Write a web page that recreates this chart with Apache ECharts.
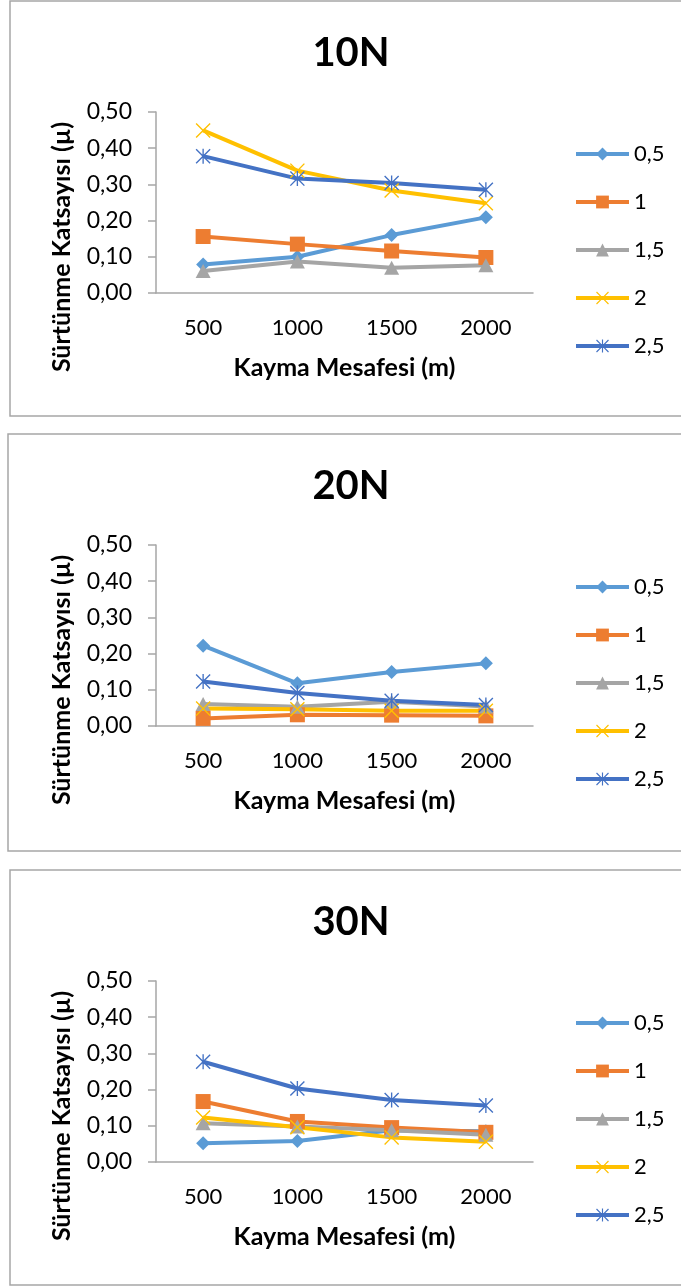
<!DOCTYPE html>
<html>
<head>
<meta charset="utf-8">
<script src="https://cdn.jsdelivr.net/npm/echarts@6/dist/echarts.min.js"></script>
<style>
  html, body { margin: 0; padding: 0; background: #fff; overflow: hidden; }
  #chart { width: 681px; height: 1286px; }
</style>
</head>
<body>
<div id="chart"></div>
<script>
// Sliding distance categories (m)
const categories = ['500', '1000', '1500', '2000'];
// Series names (sliding speed)
const seriesNames = ['0,5', '1', '1,5', '2', '2,5'];
// Panel titles (applied load)
const panelTitles = ['10N', '20N', '30N'];

// Friction coefficient, 10N
const mu10N_05 = [0.079, 0.100, 0.160, 0.209];
const mu10N_1  = [0.156, 0.135, 0.116, 0.098];
const mu10N_15 = [0.061, 0.087, 0.070, 0.077];
const mu10N_2  = [0.449, 0.338, 0.283, 0.248];
const mu10N_25 = [0.378, 0.316, 0.304, 0.285];

// Friction coefficient, 20N
const mu20N_05 = [0.222, 0.118, 0.149, 0.173];
const mu20N_1  = [0.021, 0.031, 0.030, 0.028];
const mu20N_15 = [0.061, 0.053, 0.067, 0.054];
const mu20N_2  = [0.048, 0.046, 0.042, 0.042];
const mu20N_25 = [0.123, 0.091, 0.070, 0.058];

// Friction coefficient, 30N
const mu30N_05 = [0.052, 0.058, 0.088, 0.085];
const mu30N_1  = [0.167, 0.112, 0.095, 0.082];
const mu30N_15 = [0.107, 0.098, 0.088, 0.075];
const mu30N_2  = [0.123, 0.096, 0.068, 0.056];
const mu30N_25 = [0.277, 0.203, 0.171, 0.156];

const panelData = [
  [mu10N_05, mu10N_1, mu10N_15, mu10N_2, mu10N_25],
  [mu20N_05, mu20N_1, mu20N_15, mu20N_2, mu20N_25],
  [mu30N_05, mu30N_1, mu30N_15, mu30N_2, mu30N_25]
];

const colors = ['#5B9BD5', '#ED7D31', '#A5A5A5', '#FFC000', '#4472C4'];
const crossPath = 'path://M1.3,0 L10,8.7 L18.7,0 L20,1.3 L11.3,10 L20,18.7 L18.7,20 L10,11.3 L1.3,20 L0,18.7 L8.7,10 L0,1.3 Z';
const starPath = 'path://M1.3,0 L10,8.7 L18.7,0 L20,1.3 L11.3,10 L20,18.7 L18.7,20 L10,11.3 L1.3,20 L0,18.7 L8.7,10 L0,1.3 Z M9.1,0 L10.9,0 L10.9,20 L9.1,20 Z';
const symbols = ['diamond', 'rect', 'triangle', crossPath, starPath];
const symbolSizes = [[14, 14], [15, 15], [15, 14], [15, 15], [15, 15]];

const FONT = 'Lato, "Noto Sans", sans-serif';
const panelTops = [1, 434, 870];
const panelLefts = [10, 8, 10];
const panelHeights = [415, 417, 415];

const grids = [], xAxes = [], yAxes = [], series = [], legends = [], graphics = [];

panelTops.forEach((top, p) => {
  // panel frame
  graphics.push({
    type: 'rect', silent: true,
    shape: { x: panelLefts[p], y: top, width: 700, height: panelHeights[p] },
    style: { fill: 'none', stroke: '#a6a6a6', lineWidth: 1.5 }
  });
  // panel title
  graphics.push({
    type: 'text', x: 351, y: top + 52,
    style: { text: panelTitles[p], font: 'bold 40px ' + FONT, fill: '#000', textAlign: 'center', textVerticalAlign: 'middle' }
  });
  // vertical axis title, centred lower than the plot area
  graphics.push({
    type: 'text', x: 62, y: top + 246, rotation: Math.PI / 2,
    style: { text: 'Sürtünme Katsayısı (µ)', font: 'bold 25px ' + FONT, fill: '#000', textAlign: 'center', textVerticalAlign: 'middle' }
  });

  grids.push({ left: 156, top: top + 111, width: 377, height: 181 });
  xAxes.push({
    gridIndex: p, type: 'category', data: categories, boundaryGap: true,
    axisLine: { lineStyle: { color: '#a6a6a6', width: 1.5 } },
    axisTick: { show: false },
    axisLabel: { color: '#000', fontFamily: FONT, fontSize: 22, margin: 24 },
    name: 'Kayma Mesafesi (m)', nameLocation: 'middle', nameGap: 62,
    nameTextStyle: { color: '#000', fontFamily: FONT, fontSize: 25, fontWeight: 'bold' }
  });
  yAxes.push({
    gridIndex: p, type: 'value', min: 0, max: 0.5, interval: 0.1,
    axisLine: { show: true, lineStyle: { color: '#a6a6a6', width: 1.5 } },
    axisTick: { show: true, length: 8, lineStyle: { color: '#a6a6a6', width: 1.5 } },
    splitLine: { show: false },
    axisLabel: { color: '#000', fontFamily: FONT, fontSize: 23, margin: 24,
      formatter: v => v.toFixed(2).replace('.', ',') }
  });
  panelData[p].forEach((vals, s) => {
    series.push({
      name: seriesNames[s], type: 'line', xAxisIndex: p, yAxisIndex: p,
      data: vals, symbol: symbols[s], symbolSize: symbolSizes[s], showAllSymbol: true,
      itemStyle: { color: colors[s] },
      lineStyle: { color: colors[s], width: 4 },
      animation: false
    });
  });
  legends.push({
    orient: 'vertical', left: 574, top: top + 142, padding: 0,
    itemWidth: 53, itemHeight: 16, itemGap: 26,
    data: seriesNames,
    lineStyle: { width: 4 },
    textStyle: { color: '#000', fontFamily: FONT, fontSize: 22, lineHeight: 22 }
  });
});

const chart = echarts.init(document.getElementById('chart'), null, { renderer: 'canvas' });
chart.setOption({
  animation: false,
  grid: grids, xAxis: xAxes, yAxis: yAxes, series: series, legend: legends,
  graphic: graphics
});
</script>
</body>
</html>
